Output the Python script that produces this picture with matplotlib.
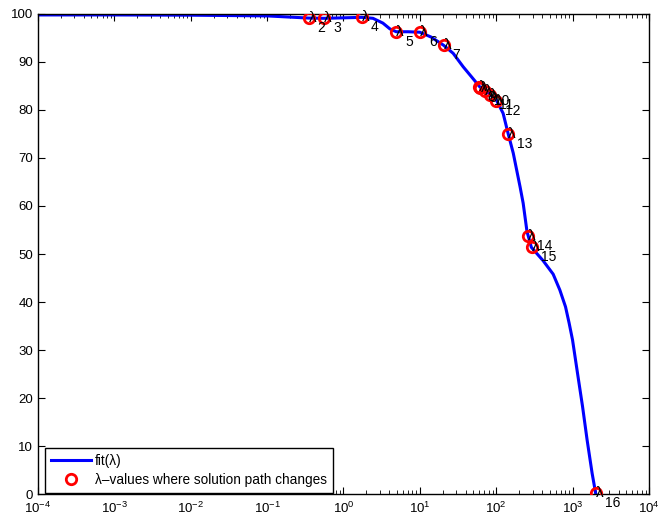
import matplotlib
matplotlib.use("Agg")
import matplotlib.pyplot as plt
from matplotlib.ticker import LogLocator, NullFormatter, FixedLocator

plt.rcParams['font.family'] = ['Liberation Sans', 'DejaVu Sans']
plt.rcParams['mathtext.fontset'] = 'custom'
plt.rcParams['mathtext.rm'] = 'Liberation Sans'
plt.rcParams['mathtext.it'] = 'Liberation Sans'

# fit(lambda) curve
lam_curve = [1e-4, 1e-3, 1e-2, 0.1, 0.2, 0.35, 0.56, 1.0, 1.73, 2.43, 3.28, 4.05, 4.9, 7.0,
             10.0, 14.0, 20.4, 27.3, 36.9, 47.5, 61.0, 71.0, 83.0, 101.0, 123.0, 143.0,
             167.0, 185.0, 205.0, 225.0, 253.0, 263.0, 288.0, 411.0, 556.0, 680.0, 807.0,
             900.0, 997.0, 1160.0, 1349.0, 1549.0, 1800.0, 2000.0]
fit_curve = [99.8, 99.8, 99.75, 99.6, 99.35, 99.15, 99.1, 99.2, 99.3, 99.1, 98.1, 96.9, 96.3, 96.3,
             96.2, 95.2, 93.5, 91.8, 89.0, 86.9, 84.8, 84.1, 83.2, 82.0, 79.3, 75.1,
             71.0, 67.5, 64.0, 60.6, 54.6, 53.7, 51.4, 48.6, 45.8, 42.5, 39.0,
             35.6, 32.1, 25.1, 18.2, 11.2, 4.3, 0.2]

# lambda values where solution path changes
lam_idx = [2, 3, 4, 5, 6, 7, 8, 9, 10, 11, 12, 13, 14, 15, 16]
lam_pts = [0.35, 0.56, 1.73, 4.9, 10.0, 20.4, 59.0, 62.0, 71.0, 83.0, 100.0, 144.0, 263.0, 290.0, 2000.0]
fit_pts = [99.2, 99.1, 99.3, 96.2, 96.2, 93.6, 84.8, 84.5, 84.0, 83.2, 81.8, 75.1, 53.7, 51.4, 0.2]

yticks = [0, 10, 20, 30, 40, 50, 60, 70, 80, 90, 100]

fig = plt.figure(figsize=(6.66, 5.16), dpi=100)
ax = fig.add_axes([0.057, 0.0426, 0.9175, 0.9303])

ax.plot(lam_curve, fit_curve, color='#0000ff', lw=2.2, label='fit(λ)', zorder=2,
        solid_joinstyle='round')
ax.plot(lam_pts, fit_pts, linestyle='none', marker='o', markersize=7.5,
        markerfacecolor='none', markeredgecolor='#ff0000', markeredgewidth=2,
        label='λ–values where solution path changes', zorder=3)
for i, x, y in zip(lam_idx, lam_pts, fit_pts):
    ax.annotate('λ', (x, y), xytext=(0, 0), textcoords='offset pixels',
                fontsize=11, ha='left', va='center', color='black', zorder=4)
    ax.annotate(str(i), (x, y), xytext=(9, -10), textcoords='offset pixels',
                fontsize=10, ha='left', va='center', color='black', zorder=4)

ax.set_xscale('log')
ax.set_xlim(1e-4, 1e4)
ax.set_ylim(0, 100)
ax.yaxis.set_major_locator(FixedLocator(yticks))
ax.xaxis.set_major_locator(LogLocator(base=10, numticks=20))
ax.xaxis.set_minor_locator(LogLocator(base=10, subs=range(2, 10), numticks=100))
ax.xaxis.set_minor_formatter(NullFormatter())
ax.tick_params(which='both', direction='in', top=True, right=True, labelsize=9.5)
ax.tick_params(axis='x', which='major', pad=5)
ax.tick_params(which='major', length=5, width=0.8)
ax.tick_params(which='minor', length=3, width=0.6)
for s in ax.spines.values():
    s.set_linewidth(1.0)

leg = ax.legend(loc='lower left', bbox_to_anchor=(7 / 611, 1 / 480), borderaxespad=0,
                fontsize=9.8, fancybox=False, framealpha=1, edgecolor='black',
                handlelength=2.9, handletextpad=0.3, labelspacing=0.35, borderpad=0.45)
leg.get_frame().set_linewidth(1.0)

fig.savefig('out.png', dpi=100)
